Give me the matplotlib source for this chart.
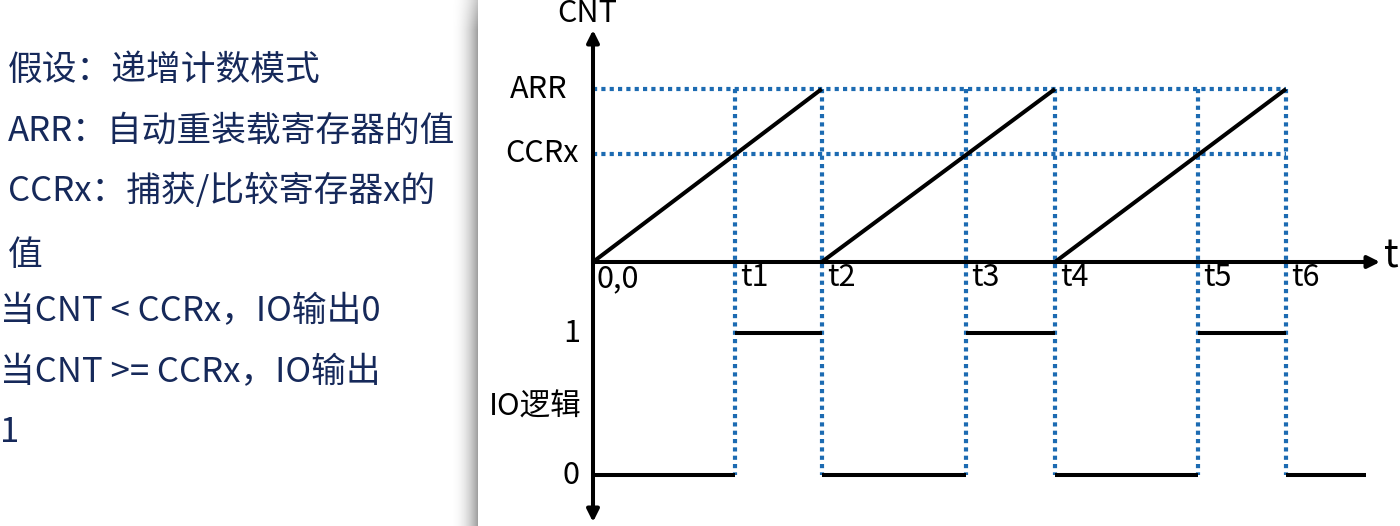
import numpy as np
import matplotlib.pyplot as plt

plt.rcParams['font.family'] = ['Noto Sans CJK SC', 'DejaVu Sans']

# left-hand notes
notes = ['假设：递增计数模式',
         'ARR：自动重装载寄存器的值',
         'CCRx：捕获/比较寄存器x的',
         '值',
         '当CNT < CCRx，IO输出0',
         '当CNT >= CCRx，IO输出',
         '1']
note_x = [8, 8, 8, 8, 0, 0, 0]
note_y = [70, 131, 191, 255, 312, 373, 432]

# counter values
ARR = 100
CCRx = 62.5
t_marks = [0.615, 0.99, 1.615, 2.0, 2.62, 3.0]
t_labels = ['t1', 't2', 't3', 't4', 't5', 't6']
ramp_start = [0, 0.99, 2.0]
ramp_end = [0.99, 2.0, 3.0]

# IO output levels (segment edges and level in each segment)
io_edges = [0, 0.615, 0.99, 1.615, 2.0, 2.62, 3.0, 3.345]
io_levels = [0, 1, 0, 1, 0, 1, 0]

# layout (pixels)
W, H = 1400, 526
X0, PX_T = 593, 231      # t=0 at x px, px per time unit
Y0, PX_C = 262, 1.73     # CNT=0 at y px, px per count
IO0, IO1 = 475, 333      # y px of IO level 0 and 1

def io_y(level):
    px = IO0 + (IO1 - IO0) * level
    return (Y0 - px) / PX_C

def ypx(px):
    return (Y0 - px) / PX_C

def xpx(px):
    return (px - X0) / PX_T

fig = plt.figure(figsize=(W / 100, H / 100), dpi=100)

# shadow on the right edge of the note panel
sax = fig.add_axes([450 / W, 0, 28 / W, 1])
g = np.linspace(0, 1, 100)
shade = 1 - 0.38 * g ** 2.2
vfade = np.ones(200)
vfade[:12] = np.linspace(0.6, 1, 12)
img = 1 - np.outer(vfade, 1 - shade)
sax.imshow(img, cmap='gray', vmin=0, vmax=1, aspect='auto', extent=[0, 1, 0, 1])
sax.axis('off')

for s, x, y in zip(notes, note_x, note_y):
    fig.text(x / W, 1 - y / H, s, fontsize=25, color='#16295A', va='center', ha='left')

ax = fig.add_axes([0, 0, 1, 1])
ax.set_xlim(xpx(0), xpx(W))
ax.set_ylim(ypx(H), ypx(0))
ax.axis('off')

blue = '#1C6BB2'
dot = dict(color=blue, lw=3.0, linestyle=(0, (1, 1)), dash_capstyle='butt', zorder=1)

# dotted reference lines
for lvl in [ARR, CCRx]:
    ax.plot([0, t_marks[-1]], [lvl, lvl], **dot)
for t in t_marks:
    ax.plot([t, t], [ARR, io_y(0)], **dot)

# axes with arrows
lw = 2.9
ax.plot([0, xpx(1368)], [0, 0], color='black', lw=lw, zorder=3)
ax.annotate('', xy=(xpx(1380), 0), xytext=(xpx(1360), 0),
            arrowprops=dict(arrowstyle='-|>', color='black', lw=lw, mutation_scale=18,
                            shrinkA=0, shrinkB=0), zorder=3)
ax.plot([0, 0], [ypx(508), ypx(44)], color='black', lw=lw, zorder=3)
ax.annotate('', xy=(0, ypx(30)), xytext=(0, ypx(50)),
            arrowprops=dict(arrowstyle='-|>', color='black', lw=lw, mutation_scale=18,
                            shrinkA=0, shrinkB=0), zorder=3)
ax.annotate('', xy=(0, ypx(522)), xytext=(0, ypx(502)),
            arrowprops=dict(arrowstyle='-|>', color='black', lw=lw, mutation_scale=18,
                            shrinkA=0, shrinkB=0), zorder=3)

# counter ramps
for a, b in zip(ramp_start, ramp_end):
    ax.plot([a, b], [0, ARR], color='black', lw=lw, solid_capstyle='butt', zorder=4)

# IO levels
for i, lvl in enumerate(io_levels):
    ax.plot([io_edges[i], io_edges[i + 1]], [io_y(lvl), io_y(lvl)],
            color='black', lw=lw, solid_capstyle='butt', zorder=4)

fs = 22
ax.text(xpx(587), ypx(14), 'CNT', fontsize=fs, ha='center', va='center')
ax.text(xpx(1384), ypx(256), 't', fontsize=28, ha='left', va='center')
ax.text(xpx(568), ARR, 'ARR', fontsize=fs, ha='right', va='center')
ax.text(xpx(579), CCRx, 'CCRx', fontsize=fs, ha='right', va='center')
ax.text(xpx(597), ypx(279), '0,0', fontsize=fs, ha='left', va='center')
for t, lab in zip(t_marks, t_labels):
    ax.text(t + xpx(X0 + 5), ypx(278), lab, fontsize=fs, ha='left', va='center')
ax.text(xpx(580), io_y(1), '1', fontsize=fs, ha='right', va='center')
ax.text(xpx(581), ypx(407), 'IO逻辑', fontsize=fs, ha='right', va='center')
ax.text(xpx(580), io_y(0), '0', fontsize=fs, ha='right', va='center')

fig.savefig('out.png', dpi=100)
